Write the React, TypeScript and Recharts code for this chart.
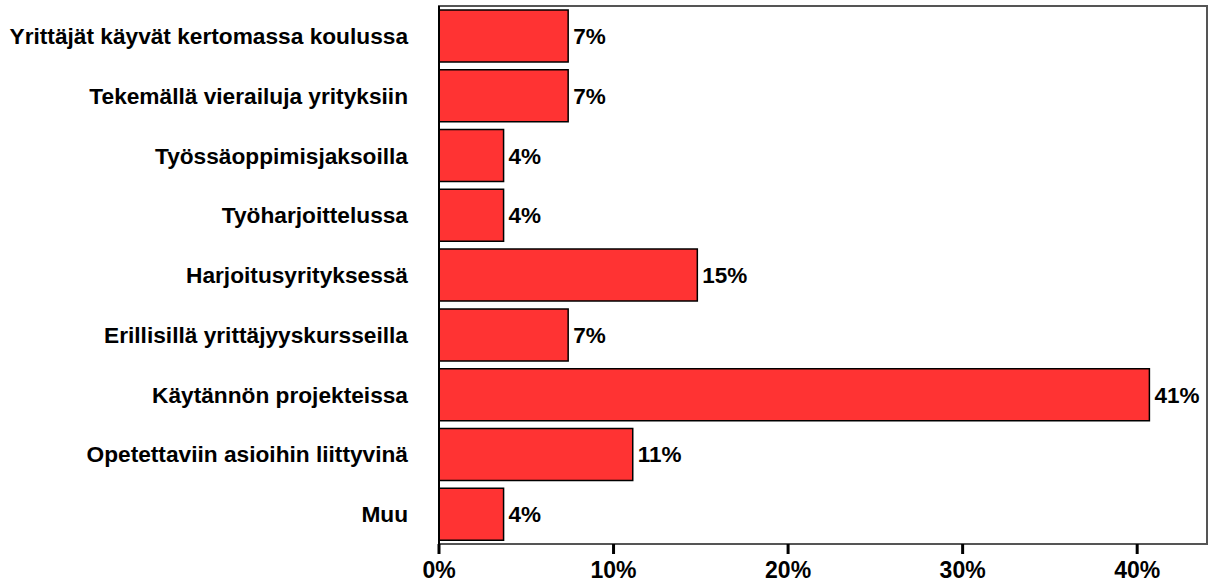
import { BarChart, Bar, XAxis, YAxis, LabelList, ReferenceArea } from 'recharts'

// vastausten jakauma (n = 27)
const categories = [
  'Yrittäjät käyvät kertomassa koulussa',
  'Tekemällä vierailuja yrityksiin',
  'Työssäoppimisjaksoilla',
  'Työharjoittelussa',
  'Harjoitusyrityksessä',
  'Erillisillä yrittäjyyskursseilla',
  'Käytännön projekteissa',
  'Opetettaviin asioihin liittyvinä',
  'Muu'
]
const shares = [7.4, 7.4, 3.7, 3.7, 14.8, 7.4, 40.7, 11.1, 3.7]
const xTicks = [0, 10, 20, 30, 40]

const data = categories.map((name, i) => ({ name, value: shares[i] }))

const FONT = '"Liberation Sans", Arial, sans-serif'

export default function App() {
  return (
    <div style={{ position: 'absolute', left: 0, top: 0, background: '#fff' }}>
      <BarChart
        width={1215}
        height={584}
        data={data}
        layout="vertical"
        margin={{ top: 6, right: 8, bottom: 0, left: 0 }}
        barCategoryGap="6.7%"
      >
        <ReferenceArea x1={0} x2={44} fill="none" stroke="#555" strokeWidth={2} ifOverflow="visible" />
        <XAxis
          type="number"
          domain={[0, 44]}
          ticks={xTicks}
          allowDataOverflow
          height={40}
          tickFormatter={(v: number) => `${v}%`}
          axisLine={{ stroke: '#555', strokeWidth: 2 }}
          tickLine={{ stroke: '#000', strokeWidth: 3 }}
          tickSize={10}
          tickMargin={8}
          tick={{ fill: '#000', fontSize: 23, fontWeight: 'bold', fontFamily: FONT }}
        />
        <YAxis
          type="category"
          dataKey="name"
          width={439}
          axisLine={{ stroke: '#000', strokeWidth: 2 }}
          tickLine={false}
          tickSize={0}
          tickMargin={31}
          interval={0}
          tick={{ fill: '#000', fontSize: 22.7, fontWeight: 'bold', fontFamily: FONT }}
        />
        <Bar dataKey="value" fill="#ff3333" stroke="#000" strokeWidth={1.5} isAnimationActive={false}>
          <LabelList
            dataKey="value"
            position="right"
            offset={5}
            formatter={(v: any) => `${Math.round(Number(v))}%`}
            style={{ fill: '#000', fontSize: 22.5, fontWeight: 'bold', fontFamily: FONT }}
          />
        </Bar>
      </BarChart>
    </div>
  )
}
